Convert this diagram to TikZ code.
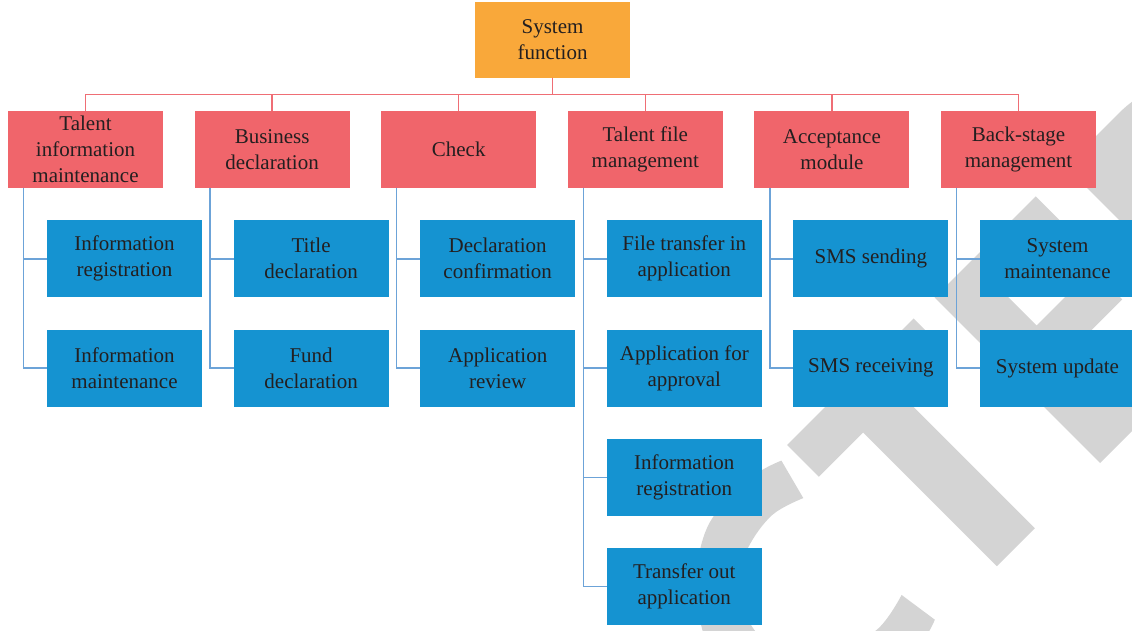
\documentclass[tikz,border=0pt]{standalone}
\usepackage{fontspec}
\setmainfont{Liberation Serif}
\usepackage{tikz}
\usetikzlibrary{positioning}
\definecolor{rootorange}{HTML}{F9A83A}
\definecolor{modred}{HTML}{F0656B}
\definecolor{subblue}{HTML}{1593D1}
\definecolor{treered}{HTML}{EF6E75}
\definecolor{leafblue}{HTML}{6CA3D8}
\definecolor{inkgray}{HTML}{231F20}
\definecolor{wmgray}{HTML}{D4D4D4}
\tikzstyle{box} = [rectangle, minimum width=155pt, minimum height=77pt, inner sep=0pt, outer sep=0pt, align=center, text=inkgray, font=\fontsize{21pt}{26pt}\selectfont]
\tikzstyle{topbox} = [box, fill=rootorange, minimum height=76pt]
\tikzstyle{modbox} = [box, fill=modred]
\tikzstyle{subbox} = [box, fill=subblue]
\tikzstyle{tree} = [treered, line width=1.4pt]
\tikzstyle{leaf} = [leafblue, line width=1.4pt]

\begin{document}
\begin{tikzpicture}[x=1pt, y=-1pt, node distance=32.3pt and 31.6pt]
			\useasboundingbox (0,0) rectangle (1132,631);
			\clip (0,0) rectangle (1132,631);

			% watermark letters, drawn in a frame turned by 45 degrees
			\coordinate (wmo) at (952.5,610.5);
			\begin{scope}[shift={(wmo)}, x={(0.7071pt,0.7071pt)}, y={(-0.7071pt,0.7071pt)}]
				\fill[wmgray] plot[smooth, tension=0.6] coordinates {(-15,227) (-40,235) (-80,238) (-120,230) (-163,200) (-195,155) (-208,110) (-195,55) (-150,10) (-90,-5) (-40,0) (-19,6)}
					-- plot[smooth, tension=0.6] coordinates {(-25,47) (-68,40) (-118,58) (-150,100) (-152,135) (-130,172) (-100,189) (-60,195) (-26,185)} -- cycle;
				\fill[wmgray] (0,189) -- (0,234) -- (179,234) -- (179,189) -- (116.4,189) -- (116.4,0) -- (62.6,0) -- (62.6,189) -- cycle;
				\fill[wmgray] (208.6,0) -- (354,0) -- (354,45) -- (261,45) -- (261,100) -- (340,100) -- (340,142) -- (261,142) -- (261,189) -- (351.7,189) -- (351.7,234) -- (208.6,234) -- cycle;
				\fill[wmgray, even odd rule] (394,0) -- (394,234) -- (470,234) .. controls (530,234) and (565,190) .. (565,117) .. controls (565,44) and (530,0) .. (470,0) -- cycle
					(448,45) -- (448,189) -- (465,189) .. controls (500,189) and (515,160) .. (515,117) .. controls (515,74) and (500,45) .. (465,45) -- cycle;
			\end{scope}

			\node (sys) [topbox] at (552.5,40) {System\\function};
			\node (check) [modbox, below=33pt of sys, xshift=-93.8pt] {Check};
			\node (bdec) [modbox, left=of check] {Business\\declaration};
			\node (tim) [modbox, left=of bdec] {Talent\\information\\maintenance};
			\node (tfm) [modbox, right=of check] {Talent file\\management};
			\node (acc) [modbox, right=of tfm] {Acceptance\\module};
			\node (bsm) [modbox, right=of acc] {Back-stage\\management};

			\node (inforeg) [subbox, below=of tim, xshift=39pt] {Information\\registration};
			\node (infomnt) [subbox, below=of inforeg] {Information\\maintenance};
			\node (titledec) [subbox, below=of bdec, xshift=39pt] {Title\\declaration};
			\node (funddec) [subbox, below=of titledec] {Fund\\declaration};
			\node (decconf) [subbox, below=of check, xshift=39pt] {Declaration\\confirmation};
			\node (apprev) [subbox, below=of decconf] {Application\\review};
			\node (ftin) [subbox, below=of tfm, xshift=39pt] {File transfer in\\application};
			\node (appfor) [subbox, below=of ftin] {Application for\\approval};
			\node (filereg) [subbox, below=of appfor] {Information\\registration};
			\node (ftout) [subbox, below=of filereg] {Transfer out\\application};
			\node (smssend) [subbox, below=of acc, xshift=39pt] {SMS sending};
			\node (smsrecv) [subbox, below=of smssend] {SMS receiving};
			\node (sysmnt) [subbox, below=of bsm, xshift=39pt] {System\\maintenance};
			\node (sysupd) [subbox, below=of sysmnt] {System update};

			\draw [tree] (sys.south) -- ++(0,16.5) -| (tim.north);
			\draw [tree] (sys.south) -- ++(0,16.5) -| (bdec.north);
			\draw [tree] (sys.south) -- ++(0,16.5) -| (check.north);
			\draw [tree] (sys.south) -- ++(0,16.5) -| (tfm.north);
			\draw [tree] (sys.south) -- ++(0,16.5) -| (acc.north);
			\draw [tree] (sys.south) -- ++(0,16.5) -| (bsm.north);

			\draw [leaf] ([xshift=15.5pt]tim.south west) |- (inforeg.west);
			\draw [leaf] ([xshift=15.5pt]tim.south west) |- (infomnt.west);
			\draw [leaf] ([xshift=15.5pt]bdec.south west) |- (titledec.west);
			\draw [leaf] ([xshift=15.5pt]bdec.south west) |- (funddec.west);
			\draw [leaf] ([xshift=15.5pt]check.south west) |- (decconf.west);
			\draw [leaf] ([xshift=15.5pt]check.south west) |- (apprev.west);
			\draw [leaf] ([xshift=15.5pt]tfm.south west) |- (ftin.west);
			\draw [leaf] ([xshift=15.5pt]tfm.south west) |- (appfor.west);
			\draw [leaf] ([xshift=15.5pt]tfm.south west) |- (filereg.west);
			\draw [leaf] ([xshift=15.5pt]tfm.south west) |- (ftout.west);
			\draw [leaf] ([xshift=15.5pt]acc.south west) |- (smssend.west);
			\draw [leaf] ([xshift=15.5pt]acc.south west) |- (smsrecv.west);
			\draw [leaf] ([xshift=15.5pt]bsm.south west) |- (sysmnt.west);
			\draw [leaf] ([xshift=15.5pt]bsm.south west) |- (sysupd.west);

			\end{tikzpicture}
\end{document}
